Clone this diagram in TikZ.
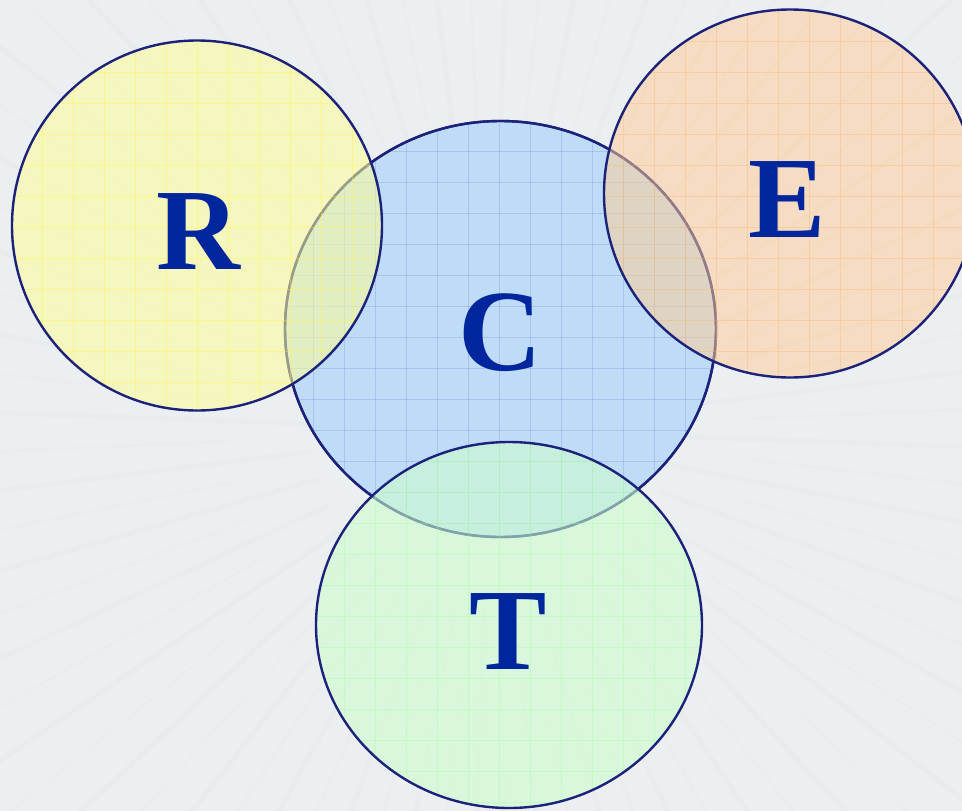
\documentclass[tikz,border=0pt]{standalone}
\usepackage{fontspec}
\setmainfont{Liberation Serif}
\usetikzlibrary{shapes.geometric}
\definecolor{bgcol}{RGB}{236,239,242}
\definecolor{rim}{RGB}{28,34,122}
\definecolor{letter}{RGB}{0,38,158}
\definecolor{cfill}{RGB}{190,219,248}
\definecolor{rfill}{RGB}{255,255,150}
\definecolor{efill}{RGB}{255,204,150}
\definecolor{tfill}{RGB}{204,255,204}
\tikzset{
  ring/.style={ellipse, draw=rim, line width=2.4pt, inner sep=0pt},
  lettertext/.style={text=letter, font=\bfseries\fontsize{116}{116}\selectfont, anchor=base, inner sep=0pt},
  ray/.style={line width=5pt, color=black!40, opacity=0.03, line cap=round},
  gridline/.style={line width=0.5pt, opacity=0.35},
}
\begin{document}
\begin{tikzpicture}[x=1pt,y=-1pt]
\useasboundingbox (0,0) rectangle (962,811);
\fill[bgcol] (0,0) rectangle (962,811);
\begin{scope}
\clip (0,0) rectangle (962,811);
\foreach \a in {2,11,...,360} {
  \draw[ray] (490,430) ++(\a:180) -- ++(\a:900);
}
\foreach \a in {6.5,15.5,...,360} {
  \draw[ray, line width=2.5pt, opacity=0.025] (490,430) ++(\a:260) -- ++(\a:900);
}
\end{scope}
% C circle
\node[ring, fill=cfill, minimum width=431pt, minimum height=416pt] (Cc) at (500.5,329) {};
\begin{scope}
\clip (500.5,329) ellipse [x radius=214, y radius=206.5];
\foreach \g in {0,31,...,962} { \draw[gridline, color=cyan!30!blue!35!cfill] (\g+3,0) -- (\g+3,811); }
\foreach \g in {0,31,...,811} { \draw[gridline, color=cyan!30!blue!35!cfill] (0,\g+27) -- (962,\g+27); }
\end{scope}
\node[ring, minimum width=431pt, minimum height=416pt] (Co) at (500.5,329) {};
% R circle
\node[ring, draw=none, fill=rfill, fill opacity=0.55, minimum size=370pt] (Rc) at (197,225.5) {};
\begin{scope}
\clip (197,225.5) circle [radius=184];
\foreach \g in {0,31,...,962} { \draw[gridline, color=yellow!80!white] (\g+11,0) -- (\g+11,811); }
\foreach \g in {0,31,...,811} { \draw[gridline, color=yellow!80!white] (0,\g+10) -- (962,\g+10); }
\end{scope}
\node[ring, minimum size=370pt] (Ro) at (197,225.5) {};
% E circle
\node[ring, draw=none, fill=efill, fill opacity=0.52, minimum width=372pt, minimum height=368pt] (Ec) at (790,193.5) {};
\begin{scope}
\clip (790,193.5) ellipse [x radius=185, y radius=183];
\foreach \g in {0,31,...,962} { \draw[gridline, color=orange!40!efill, opacity=0.3] (\g+3,0) -- (\g+3,811); }
\foreach \g in {0,31,...,811} { \draw[gridline, color=orange!40!efill, opacity=0.3] (0,\g+10) -- (962,\g+10); }
\end{scope}
\node[ring, minimum width=372pt, minimum height=368pt] (Eo) at (790,193.5) {};
% T circle
\node[ring, draw=none, fill=tfill, fill opacity=0.58, minimum width=386pt, minimum height=366pt] (Tc) at (509,625) {};
\begin{scope}
\clip (509,625) ellipse [x radius=192, y radius=182];
\foreach \g in {0,31,...,962} { \draw[gridline, color=green!25!tfill, opacity=0.3] (\g+3,0) -- (\g+3,811); }
\foreach \g in {0,31,...,811} { \draw[gridline, color=green!25!tfill, opacity=0.3] (0,\g+27) -- (962,\g+27); }
\end{scope}
\node[ring, minimum width=386pt, minimum height=366pt] (To) at (509,625) {};
% letters
\node[lettertext] (R) at (198.5,269) {R};
\node[lettertext] (C) at (500.5,370) {C};
\node[lettertext] (E) at (787,237) {E};
\node[lettertext] (T) at (508.5,669) {T};
\end{tikzpicture}
\end{document}
